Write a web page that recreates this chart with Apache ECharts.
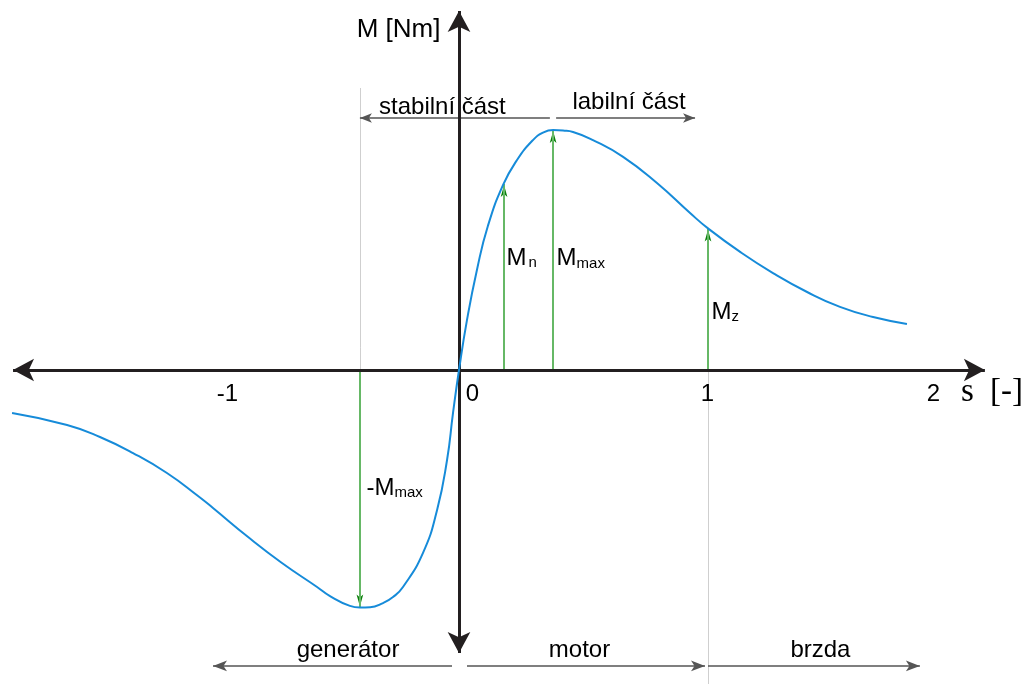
<!DOCTYPE html>
<html>
<head>
<meta charset="utf-8">
<title>Momentová charakteristika asynchronního stroje</title>
<script src="https://cdn.jsdelivr.net/npm/echarts@6/dist/echarts.min.js"></script>
<style>
  html, body { margin: 0; padding: 0; background: #fff; }
  #chart { width: 1029px; height: 684px; }
</style>
</head>
<body>
<div id="chart"></div>
<script>
// Torque–slip curve M(s) of an induction machine (M normalised to M_max)
const curveS = [-1.795, -1.574, -1.442, -1.309, -1.173, -1.048, -0.988, -0.847, -0.711, -0.570,
                -0.518, -0.438, -0.398, -0.357, -0.305, -0.265, -0.225, -0.145, -0.088, -0.048,
                -0.024, 0, 0.032, 0.072, 0.116, 0.177, 0.233, 0.297, 0.337, 0.378,
                0.418, 0.458, 0.538, 0.659, 0.795, 0.928, 1.0, 1.129, 1.261, 1.398,
                1.530, 1.663, 1.799];
const curveM = [-0.179, -0.229, -0.279, -0.346, -0.429, -0.525, -0.575, -0.696, -0.804, -0.904,
                -0.942, -0.983, -0.990, -0.989, -0.971, -0.946, -0.904, -0.763, -0.583, -0.375,
                -0.179, 0, 0.208, 0.417, 0.600, 0.771, 0.875, 0.958, 0.989, 1.0,
                0.998, 0.992, 0.958, 0.888, 0.779, 0.654, 0.590, 0.492, 0.404, 0.325,
                0.263, 0.221, 0.192];

// Characteristic torques: slip position and torque value
const markNames = ['Mn', 'Mmax', 'Mz', '-Mmax'];
const markS     = [0.181, 0.378, 1.0, -0.398];
const markM     = [0.775, 1.0, 0.590, -0.990];

// Slip tick labels
const sTicks = ['-1', '0', '1', '2'];

// Operating regions along the slip axis [from, to]
const regionNames = ['generátor', 'motor', 'brzda'];
const regionFrom  = [-0.028, 0.032, 1.0];
const regionTo    = [-0.988, 0.988, 1.851];

// Stability regions above the curve [from, to]
const stabNames = ['stabilní část', 'labilní část'];
const stabFrom  = [0.365, 0.390];
const stabTo    = [-0.398, 0.948];

// ---- scale: s = 0 at 459 px, 249 px per unit; M = 0 at 370 px, 240 px per unit
const W = 1029, H = 684;
const sMin = -459 / 249, sMax = (W - 459) / 249;
const mMax = 370 / 240, mMin = -(H - 370) / 240;

const SANS = "'Liberation Sans', Arial, sans-serif";
const SERIF = "'Liberation Serif', 'Times New Roman', serif";
const AXIS = '#231f20';
const GREEN_LINE = '#66b866';
const GREEN_HEAD = '#0a7f0a';
const GREY = '#555555';

function seg(a, b) { return [{ coord: a }, { coord: b }]; }

const main = { fontSize: 24, fontFamily: SANS, color: '#000', lineHeight: 24, verticalAlign: 'bottom' };
const sub = { fontSize: 15, fontFamily: SANS, color: '#000', lineHeight: 8, verticalAlign: 'bottom' };
const subGap = Object.assign({}, sub, { padding: [0, 0, 0, 2] });

function markLabel(name) {
  if (name === 'Mn') return '{m|M}{g|n}';
  if (name === 'Mz') return '{m|M}{s|z}';
  if (name === 'Mmax') return '{m|M}{s|max}';
  return '{m|-M}{s|max}';
}
// label anchor height and pixel gap from the arrow
const markLabelY = { 'Mn': 0.463, 'Mmax': 0.461, 'Mz': 0.239, '-Mmax': -0.494 };
const markLabelDx = { 'Mn': 3, 'Mmax': 4, 'Mz': 4, '-Mmax': 7 };
const tickDx = { '-1': 18, '0': 14, '1': 0, '2': -23 };

const textItem = (coord, text, fs, extra) => ({
  value: coord,
  label: Object.assign({
    show: true, formatter: text, position: [0, 0], align: 'center', verticalAlign: 'middle',
    fontSize: fs, fontFamily: SANS, color: '#000'
  }, extra || {})
});

const annotations = [];
annotations.push(textItem([0, 1.417], 'M [Nm]', 26, { align: 'right', offset: [-18, 0] }));
stabNames.forEach((n, i) => {
  const mid = (stabFrom[i] + stabTo[i]) / 2;
  annotations.push(textItem([mid, i === 0 ? 1.094 : 1.111], n, 24, { offset: [i === 0 ? -12 : 4, 0] }));
});
regionNames.forEach((n, i) => {
  const mid = (regionFrom[i] + regionTo[i]) / 2;
  const dx = [16, -6, 7][i];
  annotations.push(textItem([mid, -1.169], n, 24, { offset: [dx, 0] }));
});
sTicks.forEach(t => {
  annotations.push(textItem([parseFloat(t), -0.103], t, 24, { offset: [tickDx[t], 0] }));
});
annotations.push(textItem([sMax, -0.096], 's', 33, { fontFamily: SERIF, offset: [-61, 0] }));
annotations.push(textItem([sMax, -0.096], '[-]', 33, { fontFamily: SERIF, offset: [-22, 0] }));
markNames.forEach((n, i) => {
  annotations.push({
    value: [markS[i], markLabelY[n]],
    label: {
      show: true, formatter: markLabel(n), position: [0, 0], align: 'left', verticalAlign: 'middle',
      offset: [markLabelDx[n], 0], rich: { m: main, s: sub, g: subGap }
    }
  });
});

const option = {
  animation: false,
  backgroundColor: '#fff',
  grid: { left: 0, right: 0, top: 0, bottom: 0 },
  xAxis: { type: 'value', min: sMin, max: sMax, show: false },
  yAxis: { type: 'value', min: mMin, max: mMax, show: false },
  series: [
    { // light guide lines
      type: 'line', data: [], silent: true, z: 1,
      markLine: {
        silent: true, symbol: 'none', label: { show: false },
        lineStyle: { color: '#cfcfcf', width: 1, type: 'solid' },
        data: [
          seg([markS[3], 1.175], [markS[3], markM[3]]),
          seg([markS[2], 0], [markS[2], mMin])
        ]
      }
    },
    { // region arrows (stable / unstable, generator / motor / brake)
      type: 'line', data: [], silent: true, z: 2,
      markLine: {
        silent: true, symbol: ['none', 'arrow'], label: { show: false },
        lineStyle: { color: GREY, width: 1.5, type: 'solid' },
        data: stabNames.map((n, i) => {
          const d = seg([stabFrom[i], 1.05], [stabTo[i], 1.05]);
          d[1].symbolSize = [7, 12];
          return d;
        }).concat(regionNames.map((n, i) => {
          const d = seg([regionFrom[i], -1.233], [regionTo[i], -1.233]);
          d[1].symbolSize = [8, 14];
          return d;
        }))
      }
    },
    { // torque arrows
      type: 'line', data: [], silent: true, z: 3,
      markLine: {
        silent: true, symbol: 'none', label: { show: false },
        lineStyle: { color: GREEN_LINE, width: 2, type: 'solid' },
        data: markS.map((s, i) => seg([s, 0], [s, markM[i]]))
      }
    },
    { // torque arrow heads
      type: 'scatter', silent: true, z: 4,
      symbol: 'arrow', symbolSize: [5, 12],
      itemStyle: { color: GREEN_HEAD, opacity: 1 },
      data: markS.map((s, i) => ({
        value: [s, markM[i]],
        symbolRotate: markM[i] < 0 ? 180 : 0,
        symbolOffset: [0, markM[i] < 0 ? -1 : 1]
      }))
    },
    { // coordinate axes
      type: 'line', data: [], silent: true, z: 5,
      markLine: {
        silent: true, symbol: ['arrow', 'arrow'], symbolSize: [17, 21], label: { show: false },
        lineStyle: { color: AXIS, width: 3, type: 'solid' },
        data: [
          seg([-1.791, 0], [2.112, 0]),
          seg([0, -1.179], [0, 1.496])
        ]
      }
    },
    { // M(s)
      type: 'line', name: 'M(s)', z: 6,
      data: curveS.map((s, i) => [s, curveM[i]]),
      smooth: 0.5, showSymbol: false, silent: true,
      lineStyle: { color: '#168bd9', width: 2 }
    },
    { // texts
      type: 'scatter', silent: true, z: 7,
      symbolSize: 1, itemStyle: { color: 'rgba(0,0,0,0)', opacity: 1 },
      data: annotations
    }
  ]
};

const chart = echarts.init(document.getElementById('chart'), null, { renderer: 'canvas' });
chart.setOption(option);
</script>
</body>
</html>
